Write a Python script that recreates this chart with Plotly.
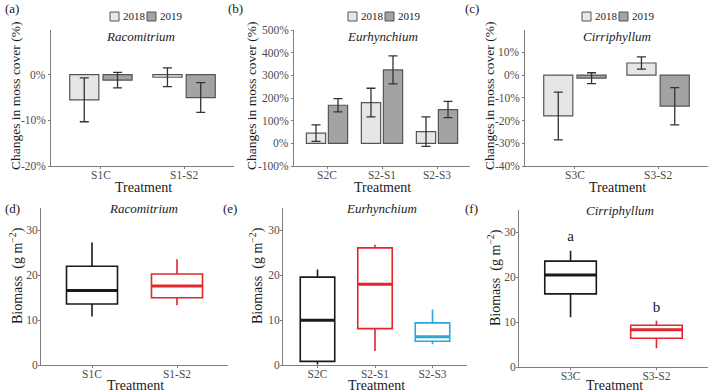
import plotly.graph_objects as go

W, H = 709, 392
FONT = "Liberation Serif, Times New Roman, serif"

# ---------------- data ----------------
years = ["2018", "2019"]

cats_a = ["S1C", "S1-S2"]
a_2018 = [-5.5, -0.55]
a_2018_err = [4.8, 2.05]
a_2019 = [-1.2, -5.0]
a_2019_err = [1.7, 3.25]

cats_b = ["S2C", "S2-S1", "S2-S3"]
b_2018 = [45, 180, 52]
b_2018_err = [36, 63, 65]
b_2019 = [168, 324, 149]
b_2019_err = [29, 62, 36]

cats_c = ["S3C", "S3-S2"]
c_2018 = [-18.0, 5.3]
c_2018_err = [10.5, 2.7]
c_2019 = [-1.4, -13.7]
c_2019_err = [2.4, 8.2]

# percentage tick values for the bar panels
ticks_a = [-20, -10, 0]
ticks_b = [-100, 0, 100, 200, 300, 400, 500]
ticks_c = [-40, -30, -20, -10, 0, 10]

cats_d = ["S1C", "S1-S2"]
d_low = [10.8, 13.3]
d_q1 = [13.6, 15.0]
d_med = [16.6, 17.6]
d_q3 = [22.0, 20.3]
d_high = [27.3, 23.6]

cats_e = ["S2C", "S2-S1", "S2-S3"]
e_low = [0.1, 3.1, 4.6]
e_q1 = [0.8, 8.1, 5.3]
e_med = [10.0, 18.0, 6.3]
e_q3 = [19.6, 26.1, 9.4]
e_high = [21.3, 26.8, 12.4]

cats_f = ["S3C", "S3-S2"]
f_low = [11.1, 4.2]
f_q1 = [16.3, 6.4]
f_med = [20.5, 8.3]
f_q3 = [23.6, 9.3]
f_high = [25.9, 10.3]
f_letters = ["a", "b"]
f_letter_y = [29.0, 13.1]

box_colors = ["#1a1a1a", "#e3262b", "#2aa8de"]

# ---------------- layout helpers ----------------
def xd(p0, p1):
    return [p0 / W, p1 / W]

def yd(p0, p1):  # p0 top px, p1 bottom px
    return [1 - p1 / H, 1 - p0 / H]

fig = go.Figure()

TICKCOL = "#4d4d4d"
AX = dict(showgrid=False, zeroline=False, showline=True, linecolor="#7f7f7f",
          linewidth=1, ticks="outside", ticklen=2, tickcolor="#7f7f7f",
          tickfont=dict(family=FONT, size=11.5, color=TICKCOL))

panels = [
    ("", xd(51, 234), yd(30, 166)),
    ("2", xd(294, 470), yd(30, 166)),
    ("3", xd(525, 708), yd(30, 166)),
    ("4", xd(41, 228), yd(208, 365)),
    ("5", xd(283, 467), yd(208, 365)),
    ("6", xd(519, 708), yd(210, 367)),
]

fills = {"2018": "#e6e6e6", "2019": "#a3a3a3"}
edge = "#555555"

def add_bars(idx, cats, v18, e18, v19, e19):
    xa = "x" + idx
    ya = "y" + idx
    for yr, vals, errs in [("2018", v18, e18), ("2019", v19, e19)]:
        fig.add_trace(go.Bar(
            x=cats, y=vals, name=yr, xaxis=xa, yaxis=ya,
            marker=dict(color=fills[yr], line=dict(color=edge, width=1.2)),
            error_y=dict(type="data", array=errs, color="#333333", thickness=1.3, width=4.5),
            showlegend=False,
        ))

add_bars("", cats_a, a_2018, a_2018_err, a_2019, a_2019_err)
add_bars("2", cats_b, b_2018, b_2018_err, b_2019, b_2019_err)
add_bars("3", cats_c, c_2018, c_2018_err, c_2019, c_2019_err)

def add_boxes(idx, cats, lo, q1, med, q3, hi):
    xa = "x" + idx
    ya = "y" + idx
    for i, c in enumerate(cats):
        col = box_colors[i]
        fig.add_trace(go.Box(
            x=[i], q1=[q1[i]], median=[med[i]], q3=[q3[i]],
            lowerfence=[lo[i]], upperfence=[hi[i]], name=c,
            width=0.6, whiskerwidth=0, fillcolor="rgba(0,0,0,0)",
            line=dict(color=col, width=1.6), xaxis=xa, yaxis=ya,
            showlegend=False, hoverinfo="skip",
        ))
        # thicker median, as in ggplot
        fig.add_trace(go.Scatter(
            x=[i - 0.3, i + 0.3], y=[med[i], med[i]], mode="lines",
            line=dict(color=col, width=3), xaxis=xa, yaxis=ya,
            showlegend=False, hoverinfo="skip",
        ))

add_boxes("4", cats_d, d_low, d_q1, d_med, d_q3, d_high)
add_boxes("5", cats_e, e_low, e_q1, e_med, e_q3, e_high)
add_boxes("6", cats_f, f_low, f_q1, f_med, f_q3, f_high)

fig.add_trace(go.Scatter(
    x=list(range(len(cats_f))), y=f_letter_y, mode="text", text=f_letters,
    textfont=dict(family=FONT, size=15, color="#1a1a1a"), xaxis="x6", yaxis="y6",
    showlegend=False, hoverinfo="skip",
))

layout = dict(
    width=W, height=H, margin=dict(l=0, r=0, t=0, b=0, autoexpand=False),
    plot_bgcolor="white", paper_bgcolor="white",
    barmode="group", bargap=0.2, bargroupgap=0.125,
    font=dict(family=FONT, color="#1a1a1a"),
    showlegend=False,
)

ytitle_top = "Changes in moss cover (%)"
ytitle_bot = "Biomass  (g m<sup>\u22122</sup>)"
yranges = [[-20, 9.8], [-100, 500], [-40, 19.8]]
yticks = [ticks_a, ticks_b, ticks_c]
cats_all = [cats_a, cats_b, cats_c, cats_d, cats_e, cats_f]

ann = []
for k, (idx, xdom, ydom) in enumerate(panels):
    n = len(cats_all[k])
    xax = dict(AX, domain=xdom, anchor="y" + idx, range=[-0.6, n - 0.4], ticklabelstandoff=-4)
    yax = dict(AX, domain=ydom, anchor="x" + idx, ticklabelstandoff=-2)
    if k < 3:
        xax.update(type="category")
        yax.update(range=yranges[k], tickmode="array", tickvals=yticks[k], showticklabels=False)
        # percentage labels placed on the axis scale
        for v in yticks[k]:
            ann.append(dict(xref=f"x{idx} domain", yref=f"y{idx}", x=0, y=v,
                            text=f"{v}%", showarrow=False, xanchor="right", yanchor="middle",
                            xshift=-3, font=dict(family=FONT, size=11.5, color=TICKCOL)))
    else:
        xax.update(tickvals=list(range(n)), ticktext=cats_all[k])
        yax.update(range=[0, 35], tickmode="linear", tick0=0, dtick=10)
    layout["xaxis" + idx] = xax
    layout["yaxis" + idx] = yax

fig.update_layout(**layout)

shapes = []
def txt(x, y, s, size=13, angle=0, italic=False, xanchor="center", color="#1a1a1a"):
    ann.append(dict(x=x / W, y=1 - y / H, xref="paper", yref="paper", text=(f"<i>{s}</i>" if italic else s),
                    showarrow=False, textangle=angle, xanchor=xanchor, yanchor="middle",
                    font=dict(family=FONT, size=size, color=color)))

# legends (one above each bar panel): key square + year label
for x0 in [110, 348, 582]:
    for j, yr in enumerate(years):
        sx = x0 + j * 37
        shapes.append(dict(type="rect", xref="paper", yref="paper",
                           x0=sx / W, x1=(sx + 9) / W, y0=1 - 21 / H, y1=1 - 12 / H,
                           fillcolor=fills[yr], line=dict(color=edge, width=1)))
        txt(sx + 11, 16, yr, size=11, xanchor="left")

# panel letters
for s, x, y in [("(a)", 3, 8), ("(b)", 226, 8), ("(c)", 463, 8),
                ("(d)", 3, 208), ("(e)", 221, 208), ("(f)", 463, 208)]:
    txt(x, y, s, size=13, xanchor="left")

# species titles
for s, x, y in [("Racomitrium", 140, 37), ("Eurhynchium", 382, 37), ("Cirriphyllum", 617, 37),
                ("Racomitrium", 143, 208), ("Eurhynchium", 381, 208), ("Cirriphyllum", 620, 210)]:
    txt(x, y, s, size=13, italic=True)

# x titles
for x, y in [(143, 187.5), (382, 187.5), (617, 187.5), (135, 385), (377, 385), (614, 385)]:
    txt(x, y, "Treatment", size=14)

# y titles
for x, y in [(15, 96), (251, 96), (489, 96)]:
    txt(x, y, ytitle_top, size=13.5, angle=-90)
for x, y in [(16, 276), (256, 276), (494, 278)]:
    txt(x, y, ytitle_bot, size=14, angle=-90)

fig.update_layout(annotations=ann, shapes=shapes)

fig.write_html("out.html")
